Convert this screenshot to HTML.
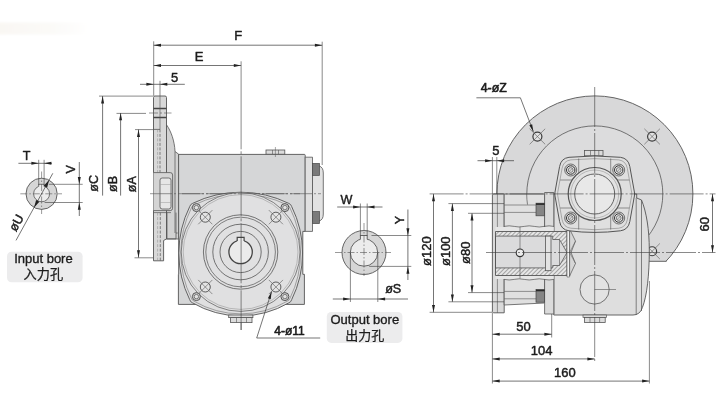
<!DOCTYPE html>
<html lang="en">
<head>
<meta charset="utf-8">
<title>Gear reducer dimension drawing</title>
<style>
html,body{margin:0;padding:0;background:#fff;}
body{width:720px;height:414px;overflow:hidden;font-family:"Liberation Sans","Noto Sans CJK SC",sans-serif;}
svg{display:block;}
text{paint-order:stroke fill;stroke-linejoin:round;}
</style>
</head>
<body>
<svg width="720" height="414" viewBox="0 0 720 414" shape-rendering="geometricPrecision">
<rect width="720" height="414" fill="#ffffff"/>
<g opacity="0.999">
<defs><linearGradient id="sm" x1="0" x2="1" y1="0" y2="0"><stop offset="0" stop-color="#f9f7f3"/><stop offset="0.6" stop-color="#fbfaf8"/><stop offset="1" stop-color="#ffffff"/></linearGradient><filter id="bl" x="-5%" y="-30%" width="110%" height="160%"><feGaussianBlur stdDeviation="1"/></filter><filter id="bl2" x="-5%" y="-10%" width="110%" height="120%"><feGaussianBlur stdDeviation="0.6"/></filter><pattern id="hatch" width="3" height="3" patternUnits="userSpaceOnUse" patternTransform="rotate(-45)"><rect width="3" height="3" fill="#e6e6e6"/><line x1="0" y1="0" x2="3" y2="0" stroke="#555" stroke-width="0.9"/></pattern></defs>
<rect x="-2" y="22.5" width="92" height="12" fill="url(#sm)" filter="url(#bl)"/>
<circle cx="41.6" cy="193.8" r="15.6" fill="#d6d6d6" stroke="#555555" stroke-width="0.9" />
<circle cx="41.6" cy="193.8" r="8.0" fill="#ececec" stroke="#555555" stroke-width="0.8" />
<rect x="38.7" y="184.3" width="5.4" height="3.5" rx="0" fill="#ececec" stroke="#555555" stroke-width="0.0" />
<path d="M38.7 186.6 V184.3 H44.1 V186.6" fill="none" stroke="#555555" stroke-width="0.8" />
<line x1="20.3" y1="193.8" x2="62" y2="193.8" stroke="#555555" stroke-width="0.6" stroke-dasharray="7 2 1.5 2" />
<line x1="41.6" y1="171.5" x2="41.6" y2="214" stroke="#555555" stroke-width="0.6" stroke-dasharray="7 2 1.5 2" />
<line x1="18.4" y1="163.3" x2="52" y2="163.3" stroke="#3a3a3a" stroke-width="0.7" />
<line x1="38.7" y1="159.8" x2="38.7" y2="185" stroke="#3a3a3a" stroke-width="0.6" />
<line x1="44.1" y1="159.8" x2="44.1" y2="185" stroke="#3a3a3a" stroke-width="0.6" />
<polygon points="38.70,163.30 31.40,164.80 31.40,161.80" fill="#222"/>
<polygon points="44.10,163.30 51.40,161.80 51.40,164.80" fill="#222"/>
<text x="26.6" y="160.2" font-family="'Liberation Sans', sans-serif" font-size="12.6" font-weight="normal" text-anchor="middle" fill="#1c1c1c" stroke="#1c1c1c" stroke-width="0.45" >T</text>
<line x1="79.3" y1="162" x2="79.3" y2="216" stroke="#3a3a3a" stroke-width="0.7" />
<line x1="48.8" y1="184.3" x2="82.7" y2="184.3" stroke="#3a3a3a" stroke-width="0.6" />
<line x1="44.6" y1="202.5" x2="82.7" y2="202.5" stroke="#3a3a3a" stroke-width="0.6" />
<polygon points="79.30,184.30 77.80,177.00 80.80,177.00" fill="#222"/>
<polygon points="79.30,202.50 80.80,209.80 77.80,209.80" fill="#222"/>
<text x="75.2" y="169.3" font-family="'Liberation Sans', sans-serif" font-size="12.6" font-weight="normal" text-anchor="middle" fill="#1c1c1c" stroke="#1c1c1c" stroke-width="0.45" transform="rotate(-90 75.2 169.3)" >V</text>
<line x1="52.8" y1="173.3" x2="16.0" y2="240.4" stroke="#3a3a3a" stroke-width="0.7" />
<polygon points="49.10,180.12 47.11,187.70 43.78,185.87" fill="#222"/>
<polygon points="34.10,207.48 36.09,199.90 39.42,201.73" fill="#222"/>
<text x="20.0" y="224.8" font-family="'Liberation Sans', sans-serif" font-size="12.6" font-weight="normal" text-anchor="middle" fill="#1c1c1c" stroke="#1c1c1c" stroke-width="0.45" transform="rotate(-61.3 20.0 224.8)" >øU</text>
<rect x="7" y="251.8" width="75.6" height="30.4" rx="4.5" fill="#ececed" filter="url(#bl2)"/>
<text x="43.4" y="263.4" font-family="'Liberation Sans', sans-serif" font-size="13" font-weight="normal" text-anchor="middle" fill="#1c1c1c" stroke="#1c1c1c" stroke-width="0.35" >Input bore</text>
<text x="43.3" y="279.3" font-family="'Liberation Sans', 'Noto Sans CJK SC', sans-serif" font-size="13.2" font-weight="normal" text-anchor="middle" fill="#1c1c1c" stroke="#1c1c1c" stroke-width="0.25" >入力孔</text>
<line x1="99" y1="96.1" x2="153" y2="96.1" stroke="#3a3a3a" stroke-width="0.6" />
<line x1="102.6" y1="96.1" x2="102.6" y2="195.6" stroke="#3a3a3a" stroke-width="0.7" />
<polygon points="102.60,96.10 104.10,103.40 101.10,103.40" fill="#222"/>
<line x1="116.5" y1="113.4" x2="146" y2="113.4" stroke="#3a3a3a" stroke-width="0.6" />
<line x1="120.6" y1="113" x2="120.6" y2="195.6" stroke="#3a3a3a" stroke-width="0.7" />
<polygon points="120.60,113.00 122.10,120.30 119.10,120.30" fill="#222"/>
<line x1="135" y1="129.6" x2="154" y2="129.6" stroke="#3a3a3a" stroke-width="0.6" />
<line x1="138.5" y1="129.6" x2="138.5" y2="257.6" stroke="#3a3a3a" stroke-width="0.7" />
<polygon points="138.50,129.60 140.00,136.90 137.00,136.90" fill="#222"/>
<polygon points="138.50,257.60 137.00,250.30 140.00,250.30" fill="#222"/>
<line x1="134.5" y1="257.8" x2="153.5" y2="257.8" stroke="#3a3a3a" stroke-width="0.6" />
<text x="97.6" y="183.4" font-family="'Liberation Sans', sans-serif" font-size="12.6" font-weight="normal" text-anchor="middle" fill="#1c1c1c" stroke="#1c1c1c" stroke-width="0.45" transform="rotate(-90 97.6 183.4)" >øC</text>
<text x="116.9" y="183.9" font-family="'Liberation Sans', sans-serif" font-size="12.6" font-weight="normal" text-anchor="middle" fill="#1c1c1c" stroke="#1c1c1c" stroke-width="0.45" transform="rotate(-90 116.9 183.9)" >øB</text>
<text x="135.6" y="184.2" font-family="'Liberation Sans', sans-serif" font-size="12.6" font-weight="normal" text-anchor="middle" fill="#1c1c1c" stroke="#1c1c1c" stroke-width="0.45" transform="rotate(-90 135.6 184.2)" >øA</text>
<line x1="153.7" y1="41.3" x2="153.7" y2="96" stroke="#3a3a3a" stroke-width="0.6" />
<line x1="322.2" y1="41.7" x2="322.2" y2="165" stroke="#3a3a3a" stroke-width="0.6" />
<line x1="153.7" y1="45.2" x2="322.2" y2="45.2" stroke="#3a3a3a" stroke-width="0.7" />
<polygon points="153.70,45.20 161.00,43.70 161.00,46.70" fill="#222"/>
<polygon points="322.20,45.20 314.90,46.70 314.90,43.70" fill="#222"/>
<text x="238.2" y="39.9" font-family="'Liberation Sans', sans-serif" font-size="13" font-weight="normal" text-anchor="middle" fill="#1c1c1c" stroke="#1c1c1c" stroke-width="0.45" >F</text>
<line x1="153.7" y1="65.5" x2="241.1" y2="65.5" stroke="#3a3a3a" stroke-width="0.7" />
<polygon points="153.70,65.50 161.00,64.00 161.00,67.00" fill="#222"/>
<polygon points="241.10,65.50 233.80,67.00 233.80,64.00" fill="#222"/>
<line x1="241.1" y1="61.3" x2="241.1" y2="330" stroke="#3a3a3a" stroke-width="0.6" stroke-dasharray="88 2 3 2 60 2 3 2" />
<text x="199" y="61.4" font-family="'Liberation Sans', sans-serif" font-size="13" font-weight="normal" text-anchor="middle" fill="#1c1c1c" stroke="#1c1c1c" stroke-width="0.45" >E</text>
<line x1="140" y1="84.3" x2="184.8" y2="84.3" stroke="#3a3a3a" stroke-width="0.7" />
<line x1="160" y1="80.8" x2="160" y2="96" stroke="#3a3a3a" stroke-width="0.6" />
<polygon points="153.70,84.30 146.40,85.80 146.40,82.80" fill="#222"/>
<polygon points="160.00,84.30 167.30,82.80 167.30,85.80" fill="#222"/>
<text x="174.6" y="81.7" font-family="'Liberation Sans', sans-serif" font-size="13" font-weight="normal" text-anchor="middle" fill="#1c1c1c" stroke="#1c1c1c" stroke-width="0.45" >5</text>
<path d="M166.5 124.8 C171 131 174.6 141 175 151.5 L178.7 154.2 V239 H166.5 Z" fill="#d2d2d2" stroke="#555555" stroke-width="0.8" />
<line x1="175" y1="151.5" x2="175" y2="233" stroke="#555555" stroke-width="0.7" />
<path d="M153.5 97.5 Q153.5 96 155 96 H165 Q166.5 96 166.5 97.5 V238.9 L163.6 240.5 V260.8 H153.5 Z" fill="#d8d8d8" stroke="#555555" stroke-width="0.9" />
<line x1="153.5" y1="108.5" x2="166.5" y2="108.5" stroke="#444" stroke-width="1.5" />
<line x1="153.5" y1="117.5" x2="166.5" y2="117.5" stroke="#444" stroke-width="1.5" />
<line x1="149" y1="113" x2="171.5" y2="113" stroke="#555555" stroke-width="0.6" stroke-dasharray="9 2 2 2" />
<line x1="160" y1="96" x2="160" y2="129.4" stroke="#555555" stroke-width="0.6" />
<path d="M153.5 129.4 H160" fill="none" stroke="#555555" stroke-width="0.8" />
<line x1="160" y1="129.4" x2="160" y2="172.6" stroke="#555555" stroke-width="0.7" stroke-dasharray="3 1.5" />
<line x1="157.6" y1="129.4" x2="157.6" y2="172.6" stroke="#8a8a8a" stroke-width="0.5" stroke-dasharray="3 1.5" />
<path d="M153.5 172.6 H170.2 Q172.6 172.6 172.6 175 V208.2 Q172.6 210.6 170.2 210.6 H153.5" fill="#d4d4d4" stroke="#555555" stroke-width="0.8" />
<rect x="160" y="178" width="11" height="31" rx="2.2" fill="#e6e6e6" stroke="#555555" stroke-width="0.8" />
<line x1="160" y1="184.5" x2="171" y2="184.5" stroke="#9a9a9a" stroke-width="0.5" />
<line x1="160" y1="202.5" x2="171" y2="202.5" stroke="#9a9a9a" stroke-width="0.5" />
<line x1="153.5" y1="212.6" x2="171" y2="212.6" stroke="#555555" stroke-width="0.7" />
<line x1="160.3" y1="212.6" x2="160.3" y2="260.8" stroke="#555555" stroke-width="0.7" stroke-dasharray="3 1.5" />
<line x1="157.6" y1="212.6" x2="157.6" y2="260.8" stroke="#8a8a8a" stroke-width="0.5" stroke-dasharray="3 1.5" />
<path d="M167 212.6 V238.9" fill="none" stroke="#555555" stroke-width="0.7" />
<path d="M166.2 238.9 H176 V233 H177.6" fill="none" stroke="#555555" stroke-width="0.8" />
<line x1="176" y1="212.6" x2="176" y2="233" stroke="#555555" stroke-width="0.7" />
<path d="M178.6 154.4 H304.4 Q305.2 154.4 305.2 155.2 V231.4 H302.8 V274.3 H304.4 V304.4 H178.4 V274.3 H178.7 Z" fill="#d5d6d7" stroke="#555555" stroke-width="0.9" />
<path d="M305.2 157.2 H312.5 V231.4 H305.2 Z" fill="#e0e0e0" stroke="#555555" stroke-width="0.8" />
<path d="M312.5 166 H319 Q323.3 167 323.3 173 V214 Q323.3 220 319 221 H312.5 Z" fill="#e2e2e2" stroke="#555555" stroke-width="0.8" />
<rect x="312.5" y="163.4" width="7.0" height="12" rx="0" fill="#7a7a7a" stroke="#4a4a4a" stroke-width="0.7" />
<rect x="312.5" y="211.6" width="7.0" height="12" rx="0" fill="#7a7a7a" stroke="#4a4a4a" stroke-width="0.7" />
<rect x="266" y="150" width="18.8" height="4.2" rx="0" fill="#dcdcdc" stroke="#555555" stroke-width="0.8" />
<line x1="272.5" y1="150" x2="272.5" y2="154.2" stroke="#555555" stroke-width="0.6" />
<line x1="278.5" y1="150" x2="278.5" y2="154.2" stroke="#555555" stroke-width="0.6" />
<line x1="275.4" y1="147" x2="275.4" y2="157" stroke="#555555" stroke-width="0.5" />
<line x1="150" y1="193.7" x2="321" y2="193.7" stroke="#555555" stroke-width="0.6" stroke-dasharray="22 2 2 2" />
<path d="M192.6 203.4 A109 109 0 0 1 288.8 203.4 Q291 204.2 291.6 206.4 A105 105 0 0 1 291.7 299.6 Q291.1 302 288.9 302.8 A95 95 0 0 1 192.5 302.8 Q190.3 302 189.7 299.6 A105 105 0 0 1 189.8 206.4 Q190.4 204.2 192.6 203.4 Z" fill="#dfdfe0" stroke="#555555" stroke-width="0.9" />
<path d="M192.6 203.4 A109 109 0 0 1 288.8 203.4 Q291 204.2 291.6 206.4 A105 105 0 0 1 291.7 299.6 Q291.1 302 288.9 302.8 A95 95 0 0 1 192.5 302.8 Q190.3 302 189.7 299.6 A105 105 0 0 1 189.8 206.4 Q190.4 204.2 192.6 203.4 Z" fill="none" stroke="#6e6e6e" stroke-width="0.6" transform="translate(240.6 252.0) scale(0.968) translate(-240.6 -252.0)"/>
<circle cx="240.6" cy="252.0" r="59.4" fill="#e0e0e1" stroke="#555555" stroke-width="0.7" />
<circle cx="240.6" cy="252.0" r="57.4" fill="none" stroke="#8c8c8c" stroke-width="0.5" />
<circle cx="240.6" cy="252.0" r="37.2" fill="none" stroke="#555555" stroke-width="0.8" />
<circle cx="240.6" cy="252.0" r="34.8" fill="none" stroke="#555555" stroke-width="0.7" />
<circle cx="240.6" cy="252.0" r="27.8" fill="none" stroke="#555555" stroke-width="0.8" />
<circle cx="240.6" cy="252.0" r="20.6" fill="none" stroke="#555555" stroke-width="0.8" />
<circle cx="240.6" cy="252.0" r="11.7" fill="#ebebeb" stroke="#444" stroke-width="1.3" />
<rect x="237.2" y="237.4" width="6.9" height="5" rx="0" fill="#ebebeb" stroke="#555555" stroke-width="0" />
<path d="M237.2 240.9 V237.4 H244.1 V240.9" fill="none" stroke="#444" stroke-width="1.2" />
<circle cx="205.3" cy="217.2" r="5.0" fill="#e4e4e4" stroke="#3a3a3a" stroke-width="0.8" />
<line x1="198.229" y1="210.129" x2="212.371" y2="224.271" stroke="#555555" stroke-width="0.6" />
<line x1="198.229" y1="224.271" x2="212.371" y2="210.129" stroke="#555555" stroke-width="0.6" />
<circle cx="275.9" cy="217.2" r="5.0" fill="#e4e4e4" stroke="#3a3a3a" stroke-width="0.8" />
<line x1="268.82899999999995" y1="210.129" x2="282.971" y2="224.271" stroke="#555555" stroke-width="0.6" />
<line x1="268.82899999999995" y1="224.271" x2="282.971" y2="210.129" stroke="#555555" stroke-width="0.6" />
<circle cx="205.3" cy="287" r="5.0" fill="#e4e4e4" stroke="#3a3a3a" stroke-width="0.8" />
<line x1="198.229" y1="279.929" x2="212.371" y2="294.071" stroke="#555555" stroke-width="0.6" />
<line x1="198.229" y1="294.071" x2="212.371" y2="279.929" stroke="#555555" stroke-width="0.6" />
<circle cx="275.9" cy="287" r="5.0" fill="#e4e4e4" stroke="#3a3a3a" stroke-width="0.8" />
<line x1="268.82899999999995" y1="279.929" x2="282.971" y2="294.071" stroke="#555555" stroke-width="0.6" />
<line x1="268.82899999999995" y1="294.071" x2="282.971" y2="279.929" stroke="#555555" stroke-width="0.6" />
<circle cx="196.4" cy="207.6" r="4.0" fill="#d0d0d0" stroke="#555555" stroke-width="1.0" />
<circle cx="196.4" cy="207.6" r="2.2" fill="#e2e2e2" stroke="#555555" stroke-width="0.7" />
<circle cx="284.9" cy="207.6" r="4.0" fill="#d0d0d0" stroke="#555555" stroke-width="1.0" />
<circle cx="284.9" cy="207.6" r="2.2" fill="#e2e2e2" stroke="#555555" stroke-width="0.7" />
<circle cx="196.4" cy="296.6" r="4.0" fill="#d0d0d0" stroke="#555555" stroke-width="1.0" />
<circle cx="196.4" cy="296.6" r="2.2" fill="#e2e2e2" stroke="#555555" stroke-width="0.7" />
<circle cx="284.9" cy="296.6" r="4.0" fill="#d0d0d0" stroke="#555555" stroke-width="1.0" />
<circle cx="284.9" cy="296.6" r="2.2" fill="#e2e2e2" stroke="#555555" stroke-width="0.7" />
<rect x="228.7" y="315.0" width="24.2" height="2.6" rx="0" fill="#dcdcdc" stroke="#555555" stroke-width="0.8" />
<rect x="230.6" y="317.6" width="21.4" height="5.0" rx="0" fill="#dcdcdc" stroke="#555555" stroke-width="0.8" />
<line x1="236.5" y1="317.6" x2="236.5" y2="322.6" stroke="#555555" stroke-width="0.6" />
<line x1="246.5" y1="317.6" x2="246.5" y2="322.6" stroke="#555555" stroke-width="0.6" />
<line x1="241.1" y1="156.3" x2="241.1" y2="330" stroke="#3a3a3a" stroke-width="0.6" stroke-dasharray="60 2 3 2" />
<line x1="182" y1="193.7" x2="300" y2="193.7" stroke="#555555" stroke-width="0.6" stroke-dasharray="22 2 2 2" />
<line x1="271.6" y1="291.6" x2="256.7" y2="338" stroke="#3a3a3a" stroke-width="0.7" />
<line x1="256.7" y1="338" x2="320.2" y2="338" stroke="#3a3a3a" stroke-width="0.7" />
<polygon points="271.60,291.60 270.74,299.20 267.88,298.28" fill="#222"/>
<text x="289.5" y="334.5" font-family="'Liberation Sans', sans-serif" font-size="12.0" font-weight="normal" text-anchor="middle" fill="#1c1c1c" stroke="#1c1c1c" stroke-width="0.6" >4-ø11</text>
<circle cx="364.0" cy="252.5" r="22" fill="#d6d6d6" stroke="#555555" stroke-width="0.9" />
<circle cx="364.0" cy="252.5" r="13.7" fill="#ececec" stroke="#555555" stroke-width="0.9" />
<rect x="360.4" y="235.5" width="6.8" height="5" rx="0" fill="#ececec" stroke="#555555" stroke-width="0" />
<path d="M360.4 239.3 V235.5 H367.2 V239.3" fill="none" stroke="#555555" stroke-width="0.9" />
<line x1="335" y1="252.5" x2="391" y2="252.5" stroke="#555555" stroke-width="0.6" stroke-dasharray="7 2 1.5 2" />
<line x1="364.0" y1="223" x2="364.0" y2="276" stroke="#555555" stroke-width="0.6" stroke-dasharray="7 2 1.5 2" />
<line x1="337.2" y1="207" x2="382.5" y2="207" stroke="#3a3a3a" stroke-width="0.7" />
<line x1="360.4" y1="203.5" x2="360.4" y2="236" stroke="#3a3a3a" stroke-width="0.6" />
<line x1="367.2" y1="203.5" x2="367.2" y2="236" stroke="#3a3a3a" stroke-width="0.6" />
<polygon points="360.40,207.00 353.10,208.50 353.10,205.50" fill="#222"/>
<polygon points="367.20,207.00 374.50,205.50 374.50,208.50" fill="#222"/>
<text x="346.4" y="204" font-family="'Liberation Sans', sans-serif" font-size="12.6" font-weight="normal" text-anchor="middle" fill="#1c1c1c" stroke="#1c1c1c" stroke-width="0.45" >W</text>
<line x1="407.9" y1="209.5" x2="407.9" y2="280" stroke="#3a3a3a" stroke-width="0.7" />
<line x1="371.5" y1="235.5" x2="411.3" y2="235.5" stroke="#3a3a3a" stroke-width="0.6" />
<line x1="369.2" y1="266.4" x2="411.3" y2="266.4" stroke="#3a3a3a" stroke-width="0.6" />
<polygon points="407.90,235.50 406.40,228.20 409.40,228.20" fill="#222"/>
<polygon points="407.90,266.40 409.40,273.70 406.40,273.70" fill="#222"/>
<text x="403.6" y="220" font-family="'Liberation Sans', sans-serif" font-size="12.6" font-weight="normal" text-anchor="middle" fill="#1c1c1c" stroke="#1c1c1c" stroke-width="0.45" transform="rotate(-90 403.6 220)" >Y</text>
<line x1="332.8" y1="299" x2="408" y2="299" stroke="#3a3a3a" stroke-width="0.7" />
<line x1="350.4" y1="252.5" x2="350.4" y2="302" stroke="#3a3a3a" stroke-width="0.6" />
<line x1="377.8" y1="252.5" x2="377.8" y2="302" stroke="#3a3a3a" stroke-width="0.6" />
<polygon points="350.40,299.00 343.10,300.50 343.10,297.50" fill="#222"/>
<polygon points="377.80,299.00 385.10,297.50 385.10,300.50" fill="#222"/>
<text x="393.2" y="292.6" font-family="'Liberation Sans', sans-serif" font-size="12.6" font-weight="normal" text-anchor="middle" fill="#1c1c1c" stroke="#1c1c1c" stroke-width="0.45" >øS</text>
<rect x="326.8" y="311.9" width="75.6" height="31" rx="4.5" fill="#ececed" filter="url(#bl2)"/>
<text x="364.8" y="324.2" font-family="'Liberation Sans', sans-serif" font-size="13" font-weight="normal" text-anchor="middle" fill="#1c1c1c" stroke="#1c1c1c" stroke-width="0.35" >Output bore</text>
<text x="364.7" y="340.1" font-family="'Liberation Sans', 'Noto Sans CJK SC', sans-serif" font-size="13.0" font-weight="normal" text-anchor="middle" fill="#1c1c1c" stroke="#1c1c1c" stroke-width="0.25" >出力孔</text>
<clipPath id="cf"><path d="M480 80 H720 V261.3 H553.8 V194 H480 Z"/></clipPath>
<g clip-path="url(#cf)">
<circle cx="594.9" cy="193.9" r="98" fill="#d8d8d9" stroke="#555555" stroke-width="0.9" />
<circle cx="594.8" cy="193.9" r="68" fill="#dcdcdd" stroke="#555555" stroke-width="0.8" />
</g>
<line x1="649" y1="261.3" x2="666.6" y2="261.3" stroke="#555555" stroke-width="0.9" />
<circle cx="537.4" cy="136.55" r="4.5" fill="#e2e2e2" stroke="#3a3a3a" stroke-width="1.2" />
<line x1="529.6219" y1="128.77190000000002" x2="545.1781" y2="144.3281" stroke="#555555" stroke-width="0.6" />
<line x1="529.6219" y1="144.3281" x2="545.1781" y2="128.77190000000002" stroke="#555555" stroke-width="0.6" />
<circle cx="652.1" cy="136.55" r="4.5" fill="#e2e2e2" stroke="#3a3a3a" stroke-width="1.2" />
<line x1="644.3219" y1="128.77190000000002" x2="659.8781" y2="144.3281" stroke="#555555" stroke-width="0.6" />
<line x1="644.3219" y1="144.3281" x2="659.8781" y2="128.77190000000002" stroke="#555555" stroke-width="0.6" />
<circle cx="652.1" cy="251.25" r="4.5" fill="#e2e2e2" stroke="#3a3a3a" stroke-width="1.2" />
<line x1="644.3219" y1="243.4719" x2="659.8781" y2="259.0281" stroke="#555555" stroke-width="0.6" />
<line x1="644.3219" y1="259.0281" x2="659.8781" y2="243.4719" stroke="#555555" stroke-width="0.6" />
<path d="M553.8 194 H636.7 V198 L641.5 200 C646.5 212 649.3 230 649.3 250 C649.3 275 647 296 642.4 307.5 Q640 315 633 315 H553.8 Z" fill="#dedede" stroke="#555555" stroke-width="0.9" />
<line x1="636.2" y1="198" x2="636.2" y2="315" stroke="#555555" stroke-width="0.7" />
<line x1="641.5" y1="200" x2="641.5" y2="311" stroke="#555555" stroke-width="0.7" />
<circle cx="594.6" cy="289.5" r="14.6" fill="#e2e2e2" stroke="#555555" stroke-width="0.8" />
<line x1="594.6" y1="289.5" x2="616" y2="289.5" stroke="#555555" stroke-width="0.6" />
<rect x="583" y="315" width="23.4" height="2.4" rx="0" fill="#dcdcdc" stroke="#555555" stroke-width="0.7" />
<rect x="584.6" y="317.4" width="20.6" height="5" rx="0" fill="#dcdcdc" stroke="#555555" stroke-width="0.8" />
<line x1="590" y1="317.4" x2="590" y2="322.4" stroke="#555555" stroke-width="0.6" />
<line x1="599.6" y1="317.4" x2="599.6" y2="322.4" stroke="#555555" stroke-width="0.6" />
<path d="M492.4 195 L493.4 193.9 H504.2 V312.8 H493.4 L492.4 311.8 Z" fill="#dadada" stroke="#555555" stroke-width="0.9" />
<line x1="497.4" y1="193.9" x2="497.4" y2="312.8" stroke="#555555" stroke-width="0.6" />
<path d="M504.2 194 H544.6 V303 L504.2 305 Z" fill="#e0e0e0" stroke="#555555" stroke-width="0.8" />
<path d="M544.6 192.5 H553.8 V314 H544.6 Z" fill="#dbdbdb" stroke="#555555" stroke-width="0.8" />
<line x1="504.2" y1="205.0" x2="536" y2="205.0" stroke="#555555" stroke-width="0.6" />
<line x1="504.2" y1="212.39999999999998" x2="536" y2="212.39999999999998" stroke="#555555" stroke-width="0.6" />
<rect x="536" y="203.2" width="8.6" height="12.6" rx="0" fill="#858585" stroke="#444" stroke-width="0.7" />
<line x1="536" y1="204.1" x2="544.6" y2="204.1" stroke="#2a2a2a" stroke-width="1.6" />
<line x1="504.2" y1="291.40000000000003" x2="536" y2="291.40000000000003" stroke="#555555" stroke-width="0.6" />
<line x1="504.2" y1="298.8" x2="536" y2="298.8" stroke="#555555" stroke-width="0.6" />
<rect x="536" y="289.6" width="8.6" height="12.6" rx="0" fill="#858585" stroke="#444" stroke-width="0.7" />
<line x1="536" y1="290.5" x2="544.6" y2="290.5" stroke="#2a2a2a" stroke-width="1.6" />
<rect x="495.5" y="227" width="58.3" height="52" rx="0" fill="#e6e6e6" stroke="#555555" stroke-width="0.0" />
<path d="M504.2 226.4 q5 -1.2 10 0 t10 0 t10 0 t10 0 t9.6 0" fill="none" stroke="#555555" stroke-width="0.7" />
<path d="M504.2 279.4 q5 1.2 10 0 t10 0 t10 0 t10 0 t9.6 0" fill="none" stroke="#555555" stroke-width="0.7" />
<path d="M495.5 231.5 H567 V275.5 H495.5 Z M495.5 236.1 V267.9 H552.7 V265.5 H559.5 L567 252.5 L559.5 239.5 H552.7 V236.1 Z" fill="url(#hatch)" stroke="#555555" stroke-width="0.0" fill-rule="evenodd"/>
<path d="M495.5 236.1 V267.9 H552.7 V265.5 H559.5 L567 252.5 L559.5 239.5 H552.7 V236.1 Z" fill="#dbdbdc" stroke="#555555" stroke-width="0.8" />
<path d="M495.5 231.5 H567 V275.5 H495.5 Z" fill="none" stroke="#555555" stroke-width="0.9" />
<rect x="545.4" y="236.1" width="5.6" height="34.6" rx="0" fill="#e3e3e3" stroke="#555555" stroke-width="0.8" />
<line x1="559.5" y1="239.5" x2="559.5" y2="265.5" stroke="#555555" stroke-width="0.6" />
<line x1="520" y1="226.6" x2="520" y2="278.6" stroke="#555555" stroke-width="0.6" />
<circle cx="520" cy="252.8" r="3.8" fill="#ececec" stroke="#333" stroke-width="1.1" />
<path d="M567 228 H569.6 V277 H567 Z" fill="#f2f2f2" stroke="#555555" stroke-width="0.6" />
<path d="M569.6 229 L575.5 241.1 L571 252.5 L575.5 263.5 L569.6 276 Z" fill="#d6d6d6" stroke="#555555" stroke-width="0.7" />
<line x1="569.6" y1="252.5" x2="575.5" y2="241.1" stroke="#555555" stroke-width="0.5" />
<line x1="569.6" y1="252.5" x2="575.5" y2="263.5" stroke="#555555" stroke-width="0.5" />
<path d="M526.7 194 A68 68 0 0 0 527.5 204.6" fill="none" stroke="#555555" stroke-width="0.7" />
<rect x="584.6" y="150.4" width="18.4" height="5.4" rx="0" fill="#dcdcdc" stroke="#555555" stroke-width="0.8" />
<line x1="590.5" y1="150.4" x2="590.5" y2="155.4" stroke="#555555" stroke-width="0.6" />
<line x1="598.8" y1="150.4" x2="598.8" y2="155.4" stroke="#555555" stroke-width="0.6" />
<path d="M569 157.3 Q594.7 154.6 620.4 157.3 Q628.3 158.3 629.8 166.5 L634.4 192 Q634.7 194 634.4 196 L629.8 221.5 Q628.3 229.8 620.4 230.8 Q594.7 234.0 569 230.8 Q561.1 229.8 559.6 221.5 L555 196 Q554.7 194 555 192 L559.6 166.5 Q561.1 158.3 569 157.3 Z" fill="#dfdfdf" stroke="#555555" stroke-width="1.0" />
<path d="M569 157.3 Q594.7 154.6 620.4 157.3 Q628.3 158.3 629.8 166.5 L634.4 192 Q634.7 194 634.4 196 L629.8 221.5 Q628.3 229.8 620.4 230.8 Q594.7 234.0 569 230.8 Q561.1 229.8 559.6 221.5 L555 196 Q554.7 194 555 192 L559.6 166.5 Q561.1 158.3 569 157.3 Z" fill="none" stroke="#7a7a7a" stroke-width="0.6" transform="translate(594.7 194.0) scale(0.93) translate(-594.7 -194.0)"/>
<line x1="578.7" y1="158.5" x2="578.7" y2="173.0" stroke="#555555" stroke-width="0.6" />
<line x1="560.2" y1="180.0" x2="572.2" y2="180.0" stroke="#555555" stroke-width="0.6" />
<line x1="578.7" y1="229.5" x2="578.7" y2="215.0" stroke="#555555" stroke-width="0.6" />
<line x1="560.2" y1="208.0" x2="572.2" y2="208.0" stroke="#555555" stroke-width="0.6" />
<line x1="610.7" y1="158.5" x2="610.7" y2="173.0" stroke="#555555" stroke-width="0.6" />
<line x1="629.2" y1="180.0" x2="617.2" y2="180.0" stroke="#555555" stroke-width="0.6" />
<line x1="610.7" y1="229.5" x2="610.7" y2="215.0" stroke="#555555" stroke-width="0.6" />
<line x1="629.2" y1="208.0" x2="617.2" y2="208.0" stroke="#555555" stroke-width="0.6" />
<circle cx="594.7" cy="194.0" r="26.5" fill="#e2e2e2" stroke="#555555" stroke-width="1.2" />
<circle cx="594.7" cy="194.0" r="24.0" fill="none" stroke="#8a8a8a" stroke-width="0.5" />
<circle cx="594.7" cy="194.0" r="20.0" fill="#e8e8e8" stroke="#555555" stroke-width="0.9" />
<circle cx="570.7" cy="170.0" r="6.0" fill="#d2d2d2" stroke="#555555" stroke-width="0.8" />
<circle cx="570.7" cy="170.0" r="4.2" fill="#e8e8e8" stroke="#333" stroke-width="1.0" />
<circle cx="570.7" cy="170.0" r="2.4" fill="#dcdcdc" stroke="#555555" stroke-width="0.7" />
<line x1="569.0" y1="171.7" x2="572.4000000000001" y2="168.3" stroke="#555555" stroke-width="0.5" />
<circle cx="570.7" cy="218.0" r="6.0" fill="#d2d2d2" stroke="#555555" stroke-width="0.8" />
<circle cx="570.7" cy="218.0" r="4.2" fill="#e8e8e8" stroke="#333" stroke-width="1.0" />
<circle cx="570.7" cy="218.0" r="2.4" fill="#dcdcdc" stroke="#555555" stroke-width="0.7" />
<line x1="569.0" y1="219.7" x2="572.4000000000001" y2="216.3" stroke="#555555" stroke-width="0.5" />
<circle cx="618.7" cy="170.0" r="6.0" fill="#d2d2d2" stroke="#555555" stroke-width="0.8" />
<circle cx="618.7" cy="170.0" r="4.2" fill="#e8e8e8" stroke="#333" stroke-width="1.0" />
<circle cx="618.7" cy="170.0" r="2.4" fill="#dcdcdc" stroke="#555555" stroke-width="0.7" />
<line x1="617.0" y1="171.7" x2="620.4000000000001" y2="168.3" stroke="#555555" stroke-width="0.5" />
<circle cx="618.7" cy="218.0" r="6.0" fill="#d2d2d2" stroke="#555555" stroke-width="0.8" />
<circle cx="618.7" cy="218.0" r="4.2" fill="#e8e8e8" stroke="#333" stroke-width="1.0" />
<circle cx="618.7" cy="218.0" r="2.4" fill="#dcdcdc" stroke="#555555" stroke-width="0.7" />
<line x1="617.0" y1="219.7" x2="620.4000000000001" y2="216.3" stroke="#555555" stroke-width="0.5" />
<line x1="594.7" y1="87" x2="594.7" y2="361.5" stroke="#3a3a3a" stroke-width="0.6" stroke-dasharray="40 2 2 2" />
<line x1="429.6" y1="193.9" x2="715.5" y2="193.9" stroke="#3a3a3a" stroke-width="0.6" stroke-dasharray="34 2 2 2" />
<line x1="486" y1="252.5" x2="715.5" y2="252.5" stroke="#3a3a3a" stroke-width="0.6" stroke-dasharray="30 2 2 2" />
<line x1="476.4" y1="97.8" x2="520.4" y2="97.8" stroke="#3a3a3a" stroke-width="0.7" />
<line x1="520.4" y1="97.8" x2="533.4" y2="131.8" stroke="#3a3a3a" stroke-width="0.7" />
<polygon points="533.40,131.80 529.32,125.33 532.12,124.26" fill="#222"/>
<text x="493.8" y="92.3" font-family="'Liberation Sans', sans-serif" font-size="12.4" font-weight="normal" text-anchor="middle" fill="#1c1c1c" stroke="#1c1c1c" stroke-width="0.6" >4-øZ</text>
<line x1="477.5" y1="160.7" x2="514" y2="160.7" stroke="#3a3a3a" stroke-width="0.7" />
<line x1="492.4" y1="157" x2="492.4" y2="194" stroke="#3a3a3a" stroke-width="0.6" />
<line x1="496.8" y1="157" x2="496.8" y2="194" stroke="#3a3a3a" stroke-width="0.6" />
<polygon points="492.40,160.70 485.10,162.20 485.10,159.20" fill="#222"/>
<polygon points="496.80,160.70 504.10,159.20 504.10,162.20" fill="#222"/>
<text x="495.8" y="154.6" font-family="'Liberation Sans', sans-serif" font-size="13" font-weight="normal" text-anchor="middle" fill="#1c1c1c" stroke="#1c1c1c" stroke-width="0.45" >5</text>
<line x1="433.5" y1="193.9" x2="433.5" y2="312.3" stroke="#3a3a3a" stroke-width="0.7" />
<polygon points="433.50,193.90 435.00,201.20 432.00,201.20" fill="#222"/>
<polygon points="433.50,312.30 432.00,305.00 435.00,305.00" fill="#222"/>
<line x1="429.6" y1="312.3" x2="492.4" y2="312.3" stroke="#3a3a3a" stroke-width="0.6" />
<line x1="452.4" y1="203.6" x2="452.4" y2="301.8" stroke="#3a3a3a" stroke-width="0.7" />
<polygon points="452.40,203.60 453.90,210.90 450.90,210.90" fill="#222"/>
<polygon points="452.40,301.80 450.90,294.50 453.90,294.50" fill="#222"/>
<line x1="448.4" y1="203.6" x2="504" y2="203.6" stroke="#3a3a3a" stroke-width="0.6" />
<line x1="448.4" y1="301.8" x2="504" y2="301.8" stroke="#3a3a3a" stroke-width="0.6" />
<line x1="472" y1="213.3" x2="472" y2="292.6" stroke="#3a3a3a" stroke-width="0.7" />
<polygon points="472.00,213.30 473.50,220.60 470.50,220.60" fill="#222"/>
<polygon points="472.00,292.60 470.50,285.30 473.50,285.30" fill="#222"/>
<line x1="468" y1="213.3" x2="504" y2="213.3" stroke="#3a3a3a" stroke-width="0.6" />
<line x1="468" y1="292.6" x2="504" y2="292.6" stroke="#3a3a3a" stroke-width="0.6" />
<text x="430.9" y="251.2" font-family="'Liberation Sans', sans-serif" font-size="13" font-weight="normal" text-anchor="middle" fill="#1c1c1c" stroke="#1c1c1c" stroke-width="0.45" transform="rotate(-90 430.9 251.2)" >ø120</text>
<text x="449.6" y="251.2" font-family="'Liberation Sans', sans-serif" font-size="13" font-weight="normal" text-anchor="middle" fill="#1c1c1c" stroke="#1c1c1c" stroke-width="0.45" transform="rotate(-90 449.6 251.2)" >ø100</text>
<text x="469.6" y="252.8" font-family="'Liberation Sans', sans-serif" font-size="13" font-weight="normal" text-anchor="middle" fill="#1c1c1c" stroke="#1c1c1c" stroke-width="0.45" transform="rotate(-90 469.6 252.8)" >ø80</text>
<line x1="712.5" y1="193.9" x2="712.5" y2="252.5" stroke="#3a3a3a" stroke-width="0.7" />
<polygon points="712.50,193.90 714.00,201.20 711.00,201.20" fill="#222"/>
<polygon points="712.50,252.50 711.00,245.20 714.00,245.20" fill="#222"/>
<text x="708.6" y="224.3" font-family="'Liberation Sans', sans-serif" font-size="13" font-weight="normal" text-anchor="middle" fill="#1c1c1c" stroke="#1c1c1c" stroke-width="0.45" transform="rotate(-90 708.6 224.3)" >60</text>
<line x1="492.4" y1="312.8" x2="492.4" y2="383.5" stroke="#3a3a3a" stroke-width="0.6" />
<line x1="551.7" y1="314" x2="551.7" y2="337.5" stroke="#3a3a3a" stroke-width="0.6" />
<line x1="649.4" y1="281" x2="649.4" y2="383.5" stroke="#3a3a3a" stroke-width="0.6" />
<line x1="492.4" y1="334.2" x2="551.7" y2="334.2" stroke="#3a3a3a" stroke-width="0.7" />
<polygon points="492.40,334.20 499.70,332.70 499.70,335.70" fill="#222"/>
<polygon points="551.70,334.20 544.40,335.70 544.40,332.70" fill="#222"/>
<line x1="492.4" y1="358.9" x2="594.7" y2="358.9" stroke="#3a3a3a" stroke-width="0.7" />
<polygon points="492.40,358.90 499.70,357.40 499.70,360.40" fill="#222"/>
<polygon points="594.70,358.90 587.40,360.40 587.40,357.40" fill="#222"/>
<line x1="492.4" y1="381.1" x2="649.4" y2="381.1" stroke="#3a3a3a" stroke-width="0.7" />
<polygon points="492.40,381.10 499.70,379.60 499.70,382.60" fill="#222"/>
<polygon points="649.40,381.10 642.10,382.60 642.10,379.60" fill="#222"/>
<text x="523.4" y="331.2" font-family="'Liberation Sans', sans-serif" font-size="13" font-weight="normal" text-anchor="middle" fill="#1c1c1c" stroke="#1c1c1c" stroke-width="0.45" >50</text>
<text x="541.6" y="355.2" font-family="'Liberation Sans', sans-serif" font-size="13" font-weight="normal" text-anchor="middle" fill="#1c1c1c" stroke="#1c1c1c" stroke-width="0.45" >104</text>
<text x="564.8" y="377.4" font-family="'Liberation Sans', sans-serif" font-size="13" font-weight="normal" text-anchor="middle" fill="#1c1c1c" stroke="#1c1c1c" stroke-width="0.45" >160</text>
</g>
</svg>
</body>
</html>
